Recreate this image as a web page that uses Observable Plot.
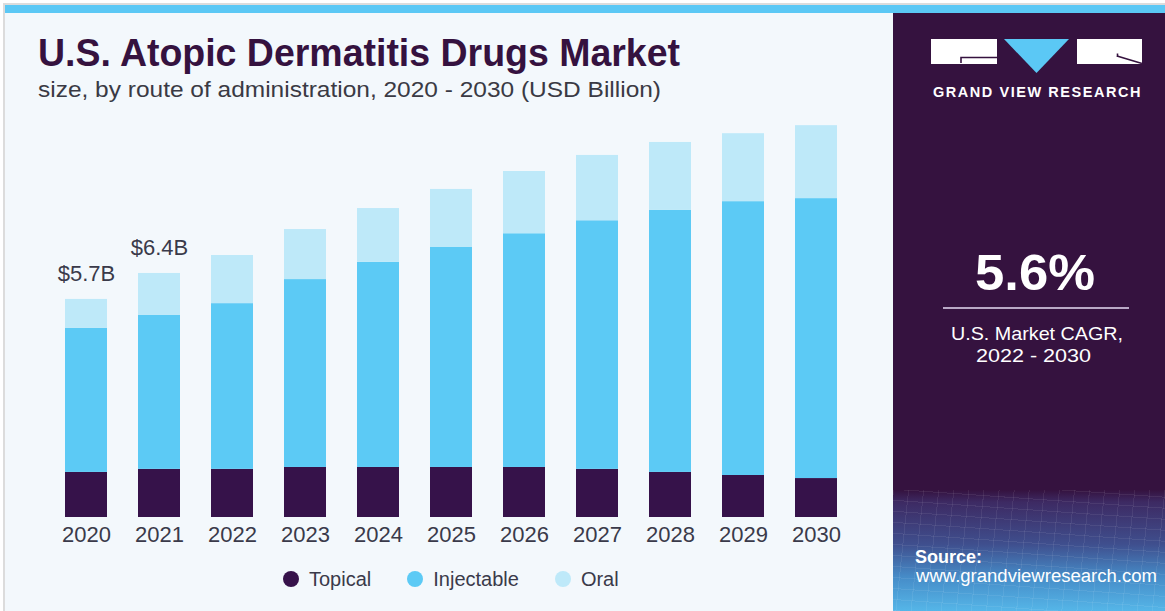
<!DOCTYPE html>
<html>
<head>
<meta charset="utf-8">
<script src="https://cdn.jsdelivr.net/npm/d3@7"></script>
<script src="https://cdn.jsdelivr.net/npm/@observablehq/plot@0.6"></script>
<style>
html, body { margin: 0; padding: 0; }
body { width: 1165px; height: 611px; position: relative; overflow: hidden; background: #ffffff;
  font-family: "Liberation Sans", Arial, sans-serif; }
.abs { position: absolute; white-space: nowrap; line-height: 1; }
#frame { left: 3px; top: 3px; width: 1162px; height: 608px; background: #dcdcdc; }
#left { left: 5px; top: 5px; width: 888px; height: 606px; background: #f3f8fc; }
#stripe { left: 5px; top: 5px; width: 1160px; height: 8px; background: #5bc8f5; }
#right { left: 893px; top: 13px; width: 272px; height: 598px; background: #35123f; }
#grad { left: 893px; top: 490px; width: 272px; height: 121px;
  background:
    repeating-linear-gradient(96deg, rgba(255,255,255,0.07) 0 1px, transparent 1px 15px),
    repeating-linear-gradient(4deg, rgba(255,255,255,0.07) 0 1px, transparent 1px 11px),
    linear-gradient(180deg, #35123f 0%, #3d2a63 10%, #3f4f8e 45%, #468cc8 72%, #55b6e8 100%); }
#title { left: 38px; top: 34px; font-weight: bold; font-size: 38px; color: #35123f; }
#subtitle { left: 38px; top: 79px; font-size: 22px; color: #3a3a44; }
#chart { left: 0px; top: 110px; }
#legend { left: 283px; top: 569px; display: flex; align-items: center; gap: 36px; font-size: 20px; color: #3a3a4a; }
.item { display: flex; align-items: center; }
.dot { width: 16px; height: 16px; border-radius: 50%; margin-right: 10px; }
#brand { left: 933px; top: 85px; font-weight: bold; font-size: 14px; letter-spacing: 1.5px; color: #ffffff; }
#cagr { top: 248px; font-weight: bold; font-size: 50px; color: #ffffff; }
#rule { left: 943px; top: 307px; width: 186px; height: 2px; background: #b9a8c6; }
#cagr1 { top: 324px; font-size: 19px; color: #ffffff; }
#cagr2 { top: 346px; font-size: 19px; color: #ffffff; }
#src1 { left: 915px; top: 548px; font-weight: bold; font-size: 18px; color: #ffffff; }
#src2 { left: 916px; top: 567px; font-size: 18px; color: #ffffff; }
#logo { left: 893px; top: 13px; }
</style>
</head>
<body>
<div id="frame" class="abs"></div>
<div id="left" class="abs"></div>
<div id="right" class="abs"></div>
<div id="grad" class="abs"></div>
<div id="stripe" class="abs"></div>

<div id="title" class="abs">U.S. Atopic Dermatitis Drugs Market</div>
<div id="subtitle" class="abs">size, by route of administration, 2020 - 2030 (USD Billion)</div>
<div id="chart" class="abs"></div>
<div id="legend" class="abs"></div>

<svg id="logo" class="abs" width="272" height="70" viewBox="893 13 272 70">
  <rect x="931" y="39" width="66" height="25" fill="#ffffff"/>
  <path d="M961 63 V57.5 H997" stroke="#35123f" stroke-width="1.6" fill="none"/>
  <polygon points="1004,39 1069,39 1036.5,73" fill="#5bc8f5"/>
  <rect x="1077" y="39" width="65" height="25" fill="#ffffff"/>
  <path d="M1117 56 L1142 63.5" stroke="#35123f" stroke-width="1.6" fill="none"/>
  <path d="M1117.5 53.5 V57" stroke="#35123f" stroke-width="1.6" fill="none"/>
</svg>
<div id="brand" class="abs">GRAND VIEW RESEARCH</div>
<div id="cagr" class="abs">5.6%</div>
<div id="rule" class="abs"></div>
<div id="cagr1" class="abs">U.S. Market CAGR,</div>
<div id="cagr2" class="abs">2022 - 2030</div>
<div id="src1" class="abs">Source:</div>
<div id="src2" class="abs">www.grandviewresearch.com</div>

<script>
// ---- Data (USD Billion) ----
const years = ["2020","2021","2022","2023","2024","2025","2026","2027","2028","2029","2030"];
const topical    = [1.18, 1.26, 1.26, 1.31, 1.31, 1.31, 1.31, 1.26, 1.18, 1.10, 1.02];
const injectable = [3.77, 4.03, 4.34, 4.92, 5.37, 5.76, 6.12, 6.51, 6.86, 7.17, 7.33];
const oral       = [0.76, 1.10, 1.26, 1.31, 1.41, 1.52, 1.63, 1.71, 1.78, 1.78, 1.91];
const routes = ["Topical", "Injectable", "Oral"];
const routeColors = ["#36124a", "#5ccaf5", "#bee9f9"];
const totalLabels = ["$5.7B", "$6.4B"];

const series = { Topical: topical, Injectable: injectable, Oral: oral };
const rows = [];
years.forEach((yr, i) => {
  routes.forEach(r => rows.push({ year: yr, route: r, value: series[r][i] }));
});
const totals = years.map((yr, i) => ({
  year: yr,
  total: topical[i] + injectable[i] + oral[i],
  label: totalLabels[i] || ""
})).filter(d => d.label);

const chart = Plot.plot({
  width: 893,
  height: 440,
  marginLeft: 63,
  marginRight: 54,
  marginTop: 6,
  marginBottom: 33,
  style: { background: "transparent", fontFamily: "Liberation Sans, Arial, sans-serif", fontSize: "22px", color: "#3a3a4a", overflow: "visible" },
  x: { domain: years, paddingInner: 0.43, paddingOuter: 0, label: null, tickSize: 0, tickPadding: 9 },
  y: { domain: [0, 10.5], axis: null },
  color: { domain: routes, range: routeColors },
  marks: [
    Plot.barY(rows, { x: "year", y: "value", fill: "route" }),
    Plot.text(totals, { x: "year", y: "total", text: "label", lineAnchor: "bottom", dy: -18, fontSize: 22, fill: "#3a3a4a" })
  ]
});
document.getElementById("chart").appendChild(chart);

// ---- Legend ----
const legend = document.getElementById("legend");
routes.forEach((r, i) => {
  const item = document.createElement("div");
  item.className = "item";
  const dot = document.createElement("div");
  dot.className = "dot";
  dot.style.background = routeColors[i];
  const lab = document.createElement("span");
  lab.textContent = r;
  item.appendChild(dot); item.appendChild(lab);
  legend.appendChild(item);
});

// ---- Fit text widths ----
function fit(id, w, cx) {
  const el = document.getElementById(id);
  const r = el.getBoundingClientRect().width;
  el.style.transformOrigin = "left top";
  el.style.transform = `scaleX(${w / r})`;
  if (cx != null) el.style.left = (cx - w / 2) + "px";
}
fit("title", 642);
fit("subtitle", 623);
fit("brand", 209);
fit("cagr", 120, 1035);
fit("cagr1", 172, 1037);
fit("cagr2", 115, 1033);
fit("src2", 241);
</script>
</body>
</html>
